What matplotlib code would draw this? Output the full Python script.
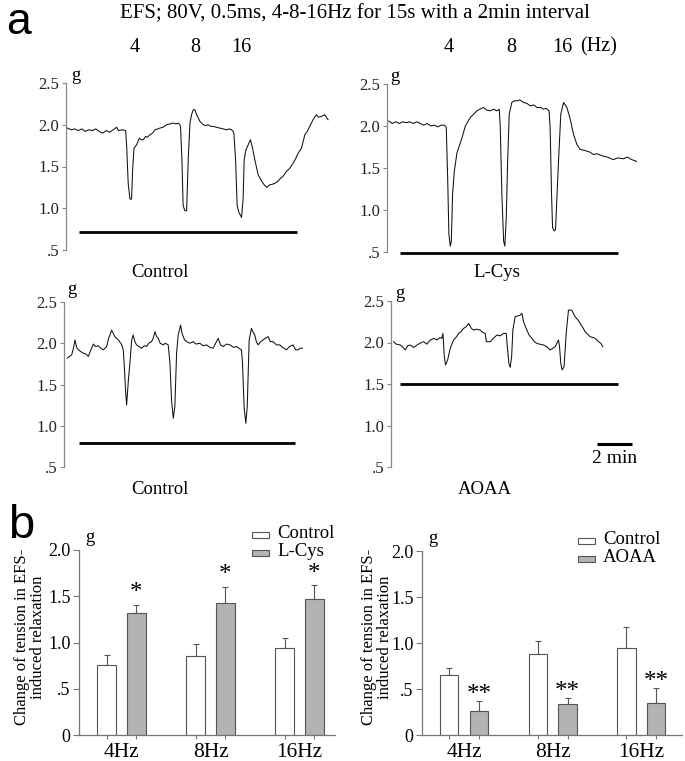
import numpy as np
import matplotlib
matplotlib.use('Agg')
import matplotlib.pyplot as plt
from matplotlib.patches import Rectangle

W, H = 685, 761
plt.rcParams['font.family'] = ['Liberation Serif', 'DejaVu Serif']

# ---- panel a: tension traces (time in min, tension in g) ----
t_ctrl1 = [0.08, 0.3, 0.5, 0.7, 0.9, 1.1, 1.3, 1.5, 1.7, 1.9, 2.1, 2.3, 2.5, 2.7, 2.9, 3.0, 3.2,
           3.41, 3.47, 3.56, 3.66, 3.75, 3.81, 3.89, 4.04, 4.19, 4.3, 4.42, 4.55, 4.65, 4.8, 4.95,
           5.09, 5.25, 5.37, 5.55, 5.75, 5.95, 6.13, 6.3, 6.42, 6.51, 6.55, 6.63, 6.70, 6.80, 6.90,
           6.99, 7.09, 7.18, 7.28, 7.37, 7.47, 7.66, 7.85, 8.0, 8.13, 8.3, 8.42, 8.6, 8.8, 9.0, 9.18,
           9.35, 9.47, 9.56, 9.60, 9.70, 9.79, 9.89, 10.04, 10.13, 10.19, 10.29, 10.42, 10.55, 10.67,
           10.80, 10.99, 11.18, 11.3, 11.47, 11.65, 11.85, 12.05, 12.23, 12.4, 12.61, 12.8, 12.99,
           13.15, 13.28, 13.47, 13.66, 13.8, 13.94, 14.13, 14.32, 14.45, 14.61, 14.8, 14.99]
g_ctrl1 = [1.96, 1.94, 1.95, 1.93, 1.95, 1.92, 1.94, 1.93, 1.95, 1.92, 1.90, 1.93, 1.91, 1.94, 1.97, 1.93, 1.94,
           1.93, 1.74, 1.29, 1.11, 1.11, 1.46, 1.72, 1.76, 1.84, 1.82, 1.82, 1.86, 1.85, 1.88, 1.90,
           1.94, 1.95, 1.96, 1.97, 2.00, 2.01, 2.02, 2.01, 2.02, 2.00, 1.98, 1.58, 1.03, 0.97, 0.97,
           1.58, 2.02, 2.12, 2.18, 2.18, 2.12, 2.04, 2.00, 1.99, 2.00, 1.98, 1.98, 1.97, 1.96, 1.95, 1.94,
           1.95, 1.94, 1.92, 1.90, 1.58, 1.03, 0.95, 0.89, 1.11, 1.58, 1.70, 1.76, 1.82, 1.72,
           1.58, 1.40, 1.33, 1.29, 1.25, 1.28, 1.29, 1.31, 1.35, 1.38, 1.44, 1.48, 1.54,
           1.60, 1.66, 1.72, 1.88, 1.92, 1.98, 2.06, 2.12, 2.09, 2.10, 2.12, 2.06]

t_lcys = [0.10, 0.3, 0.5, 0.7, 0.9, 1.1, 1.3, 1.5, 1.7, 1.9, 2.1, 2.3, 2.5, 2.7, 2.9, 3.1, 3.3,
          3.39, 3.47, 3.54, 3.62, 3.68, 3.75, 3.85, 4.0, 4.29, 4.48, 4.76, 5.14, 5.3, 5.52, 5.7, 5.9,
          6.1, 6.29, 6.42, 6.48, 6.57, 6.67, 6.74, 6.82, 6.90, 6.99, 7.14, 7.3, 7.43, 7.6, 7.81, 8.0,
          8.19, 8.4, 8.57, 8.8, 8.95, 9.1, 9.27, 9.33, 9.41, 9.47, 9.56, 9.64, 9.71, 9.81, 9.94,
          10.10, 10.29, 10.48, 10.67, 10.86, 11.05, 11.3, 11.43, 11.6, 11.81, 12.0, 12.38, 12.6,
          12.95, 13.2, 13.52, 13.75, 13.99, 14.27]
g_lcys = [2.06, 2.03, 2.05, 2.03, 2.05, 2.04, 2.05, 2.03, 2.05, 2.03, 2.01, 2.03, 2.00, 2.01, 1.99, 2.01, 2.01,
          1.98, 1.38, 0.71, 0.57, 0.63, 1.19, 1.46, 1.68, 1.86, 2.00, 2.10, 2.18, 2.20, 2.22, 2.19, 2.18,
          2.20, 2.18, 2.20, 1.98, 1.19, 0.63, 0.57, 0.90, 1.58, 2.14, 2.28, 2.30, 2.30, 2.31, 2.28, 2.27,
          2.24, 2.25, 2.22, 2.22, 2.20, 2.21, 2.18, 1.98, 1.19, 0.79, 0.75, 0.77, 1.11, 1.58, 2.14,
          2.28, 2.22, 2.08, 1.90, 1.78, 1.72, 1.71, 1.70, 1.69, 1.66, 1.67, 1.64, 1.63,
          1.60, 1.62, 1.61, 1.63, 1.60, 1.58]

t_ctrl2 = [0.19, 0.44, 0.55, 0.63, 0.72, 0.82, 0.95, 1.10, 1.25, 1.39, 1.5, 1.68, 1.8, 1.96, 2.1, 2.25,
           2.44, 2.55, 2.63, 2.72, 2.82, 2.9, 3.01, 3.15, 3.30, 3.39, 3.45, 3.52, 3.58, 3.68, 3.77, 3.87,
           3.96, 4.05, 4.15, 4.3, 4.44, 4.6, 4.72, 4.85, 5.01, 5.1, 5.20, 5.3, 5.39, 5.5, 5.68, 5.8, 5.96,
           6.06, 6.15, 6.25, 6.34, 6.44, 6.53, 6.67, 6.75, 6.82, 6.9, 7.01, 7.2, 7.39, 7.55, 7.77, 7.95,
           8.15, 8.35, 8.53, 8.65, 8.82, 8.95, 9.10, 9.3, 9.49, 9.7, 9.87, 10.0, 10.15, 10.21, 10.30,
           10.40, 10.48, 10.59, 10.72, 10.8, 10.91, 11.0, 11.10, 11.25, 11.39, 11.5, 11.68, 11.8, 11.96,
           12.15, 12.34, 12.5, 12.72, 12.9, 13.10, 13.25, 13.39, 13.5, 13.64]
g_ctrl2 = [1.82, 1.86, 1.95, 2.04, 1.95, 1.92, 1.90, 1.88, 1.87, 1.84, 1.90, 1.99, 1.96, 1.97, 1.94, 1.92,
           1.96, 2.06, 2.10, 2.16, 2.12, 2.08, 2.06, 2.03, 1.98, 1.92, 1.72, 1.43, 1.25, 1.55, 1.76, 2.04,
           2.10, 2.02, 1.98, 1.96, 1.94, 1.97, 1.96, 2.00, 2.02, 2.06, 2.14, 2.08, 2.06, 2.00, 1.98, 2.00, 1.98,
           1.76, 1.31, 1.09, 1.23, 1.88, 2.10, 2.22, 2.12, 2.08, 2.04, 2.02, 2.00, 2.02, 1.99, 2.00, 1.97,
           1.98, 1.95, 1.94, 1.99, 2.06, 1.98, 1.96, 1.99, 1.98, 1.95, 1.96, 1.94, 1.92, 1.76, 1.23,
           1.03, 1.23, 2.04, 2.18, 2.14, 2.10, 2.02, 1.98, 2.02, 2.04, 2.06, 2.08, 2.02, 2.02,
           1.98, 1.98, 1.95, 1.92, 1.96, 1.98, 1.92, 1.92, 1.94, 1.94]

t_aoaa = [0.15, 0.3, 0.53, 0.65, 0.82, 0.95, 1.10, 1.3, 1.49, 1.65, 1.87, 2.05, 2.25, 2.45, 2.63, 2.8,
          2.91, 2.97, 3.05, 3.12, 3.24, 3.39, 3.58, 3.75, 3.87, 4.0, 4.15, 4.3, 4.44, 4.6, 4.72, 4.9,
          5.10, 5.25, 5.39, 5.45, 5.68, 5.85, 6.06, 6.25, 6.44, 6.59, 6.67, 6.74, 6.82, 6.90, 6.97,
          7.10, 7.39, 7.49, 7.58, 7.77, 7.9, 8.06, 8.2, 8.34, 8.5, 8.72, 8.9, 9.10, 9.25, 9.39, 9.58,
          9.64, 9.71, 9.79, 9.90, 10.02, 10.15, 10.34, 10.53, 10.7, 10.82, 11.0, 11.10, 11.25, 11.39,
          11.55, 11.68, 11.87, 12.0, 12.11]
g_aoaa = [2.01, 1.98, 1.97, 1.95, 1.91, 1.96, 1.97, 1.94, 1.97, 1.99, 2.01, 1.98, 2.03, 2.05, 2.03, 2.06,
          2.05, 2.11, 1.83, 1.73, 1.79, 1.93, 2.03, 2.07, 2.11, 2.13, 2.17, 2.19, 2.23, 2.17, 2.15, 2.16,
          2.15, 2.12, 2.11, 2.01, 2.01, 2.05, 2.09, 2.08, 2.11, 2.11, 1.91, 1.75, 1.70, 1.83, 2.15,
          2.31, 2.33, 2.35, 2.25, 2.15, 2.09, 2.05, 2.01, 1.99, 1.98, 1.97, 1.95, 1.91, 1.93, 1.95, 2.03,
          1.95, 1.75, 1.67, 1.71, 2.11, 2.39, 2.39, 2.31, 2.27, 2.23, 2.17, 2.13, 2.10, 2.07,
          2.06, 2.05, 2.01, 1.99, 1.95]

# stimulation period bars: (start min, end min, level g)
bar_ctrl1 = (0.74, 13.2, 0.72)
bar_lcys = (0.76, 13.2, 0.49)
bar_ctrl2 = (0.86, 13.2, 0.79)
bar_aoaa = (0.53, 13.0, 1.50)

trace_ticks = [0.5, 1.0, 1.5, 2.0, 2.5]
trace_ticklabels = ['.5', '1.0', '1.5', '2.0', '2.5']

# ---- panel b: bar charts ----
freqs = ['4Hz', '8Hz', '16Hz']
lcys_ctrl = [0.76, 0.85, 0.94]
lcys_ctrl_err = [0.11, 0.13, 0.11]
lcys_mean = [1.32, 1.43, 1.47]
lcys_err = [0.09, 0.17, 0.15]
aoaa_ctrl = [0.65, 0.88, 0.95]
aoaa_ctrl_err = [0.08, 0.14, 0.22]
aoaa_mean = [0.26, 0.34, 0.35]
aoaa_err = [0.11, 0.06, 0.16]
bar_ticks = [0, 0.5, 1.0, 1.5, 2.0]
bar_ticklabels = ['0', '.5', '1.0', '1.5', '2.0']

fig = plt.figure(figsize=(W / 100, H / 100), dpi=100)


def px_axes(x0, y0, x1, y1):
    return fig.add_axes([x0 / W, 1 - y1 / H, (x1 - x0) / W, (y1 - y0) / H])


def ftext(x, y, s, **kw):
    fig.text(x / W, 1 - y / H, s, **kw)


def draw_trace(box, t, g, stim, g_xy):
    ax = px_axes(*box)
    ax.plot(t, g, color='#111111', lw=0.75)
    ax.plot(stim[:2], [stim[2], stim[2]], color='black', lw=2.0, clip_on=False,
            solid_capstyle='butt')
    ax.set_xlim(0, 15.5)
    ax.set_ylim(0.5, 2.5)
    for s in ['top', 'right', 'bottom']:
        ax.spines[s].set_visible(False)
    ax.spines['left'].set_color('#888888')
    ax.spines['left'].set_linewidth(0.9)
    ax.set_xticks([])
    ax.set_yticks(trace_ticks)
    ax.set_yticklabels(trace_ticklabels)
    ax.tick_params(axis='y', length=3, width=0.8, color='#888888', labelsize=12,
                   labelcolor='#222222', pad=2)
    ftext(g_xy[0], g_xy[1], 'g', fontsize=13.5, ha='left', va='baseline')
    return ax


draw_trace((66, 83, 337, 250), t_ctrl1, g_ctrl1, bar_ctrl1, (71, 80))
draw_trace((387, 84, 658, 252), t_lcys, g_lcys, bar_lcys, (390, 81))
draw_trace((64, 302, 335, 467), t_ctrl2, g_ctrl2, bar_ctrl2, (67, 294))
ax_aoaa = draw_trace((391, 301, 662, 467), t_aoaa, g_aoaa, bar_aoaa, (395, 298))

# 2 min scale bar
ax_aoaa.plot([11.79, 13.79], [0.78, 0.78], color='black', lw=2.2, clip_on=False,
             solid_capstyle='butt')
ax_aoaa.text(12.8, 0.6, '2 min', fontsize=14, ha='center', va='center', clip_on=False)

ftext(160, 272, 'Control', fontsize=13.5, ha='center', va='center')
ftext(497, 272, 'L-Cys', fontsize=13.5, ha='center', va='center')
ftext(160, 490, 'Control', fontsize=13.5, ha='center', va='center')
ftext(485, 490, 'AOAA', fontsize=13.5, ha='center', va='center')

ftext(355, 14, 'EFS; 80V, 0.5ms, 4-8-16Hz for 15s with a 2min interval',
      fontsize=15, ha='center', va='center')
for x, s in [(135, '4'), (195, '8'), (241, '16'), (449, '4'), (511, '8'), (562, '16'),
             (599, '(Hz)')]:
    ftext(x, 47, s, fontsize=14.5, ha='center', va='center')

ftext(18, 34, 'a', fontsize=32, ha='center', va='baseline', family='Liberation Sans')
ftext(21, 538, 'b', fontsize=34, ha='center', va='baseline', family='Liberation Sans')


def draw_bars(box, xlim, ctrl, ctrl_err, trt, trt_err, star, star_pad, legend_xy,
              trt_name, ylab_x):
    ax = px_axes(*box)
    x = np.arange(len(freqs))
    off, w = 0.168, 0.205
    ax.bar(x - off, ctrl, w, color='white', edgecolor='#555555', lw=0.8, zorder=2)
    ax.bar(x + off, trt, w, color='#b3b3b3', edgecolor='#555555', lw=0.8, zorder=2)
    ax.errorbar(x - off, ctrl, yerr=[np.zeros(3), ctrl_err], fmt='none', ecolor='#555555',
                elinewidth=0.8, capsize=2, capthick=0.8, zorder=1)
    ax.errorbar(x + off, trt, yerr=[np.zeros(3), trt_err], fmt='none', ecolor='#555555',
                elinewidth=0.8, capsize=2, capthick=0.8, zorder=1)
    for xi, m, e in zip(x, trt, trt_err):
        ax.annotate(star, (xi + off, m + e), xytext=(0, star_pad), textcoords='offset points',
                    ha='center', va='baseline', fontsize=18)
    ax.set_xlim(*xlim)
    ax.set_ylim(0, 2.0)
    for s in ['top', 'right']:
        ax.spines[s].set_visible(False)
    for s in ['left', 'bottom']:
        ax.spines[s].set_color('#777777')
        ax.spines[s].set_linewidth(0.9)
    ax.set_yticks(bar_ticks)
    ax.set_yticklabels(bar_ticklabels)
    ax.tick_params(axis='y', length=4, width=0.8, color='#777777', labelsize=13, pad=2)
    ax.set_xticks(x)
    ax.set_xticklabels(freqs)
    ax.set_xticks(np.concatenate([x - off, x + off]), minor=True)
    ax.tick_params(axis='x', which='major', length=0, labelsize=15.5, pad=6)
    ax.tick_params(axis='x', which='minor', length=3, width=0.8, color='#777777')
    # g unit label
    x0, y0 = box[0], box[1]
    ftext(x0 + 6, y0 - 8, 'g', fontsize=13.5, ha='left', va='baseline')
    # legend
    lx, ly = legend_xy
    for i, (name, fc) in enumerate([('Control', 'white'), (trt_name, '#b3b3b3')]):
        yy = ly + i * 18
        fig.add_artist(Rectangle((lx / W, 1 - (yy + 3) / H), 17 / W, 6 / H, facecolor=fc,
                                 edgecolor='#555555', lw=0.8, transform=fig.transFigure))
        ftext(lx + 25, yy - 2, name, fontsize=13.5, ha='left', va='center')
    ftext(ylab_x, 637, 'Change of tension in EFS-\ninduced relaxation', fontsize=12,
          rotation=90, ha='center', va='center', multialignment='center', linespacing=1.05)
    return ax


draw_bars((79, 550, 335, 735), (-0.478, 2.399), lcys_ctrl, lcys_ctrl_err, lcys_mean, lcys_err,
          '*', 4, (252, 535), 'L-Cys', 30)
draw_bars((422, 551, 682, 735), (-0.473, 2.458), aoaa_ctrl, aoaa_ctrl_err, aoaa_mean, aoaa_err,
          '**', 0, (578, 541), 'AOAA', 377)

fig.savefig('out.png', dpi=100)
